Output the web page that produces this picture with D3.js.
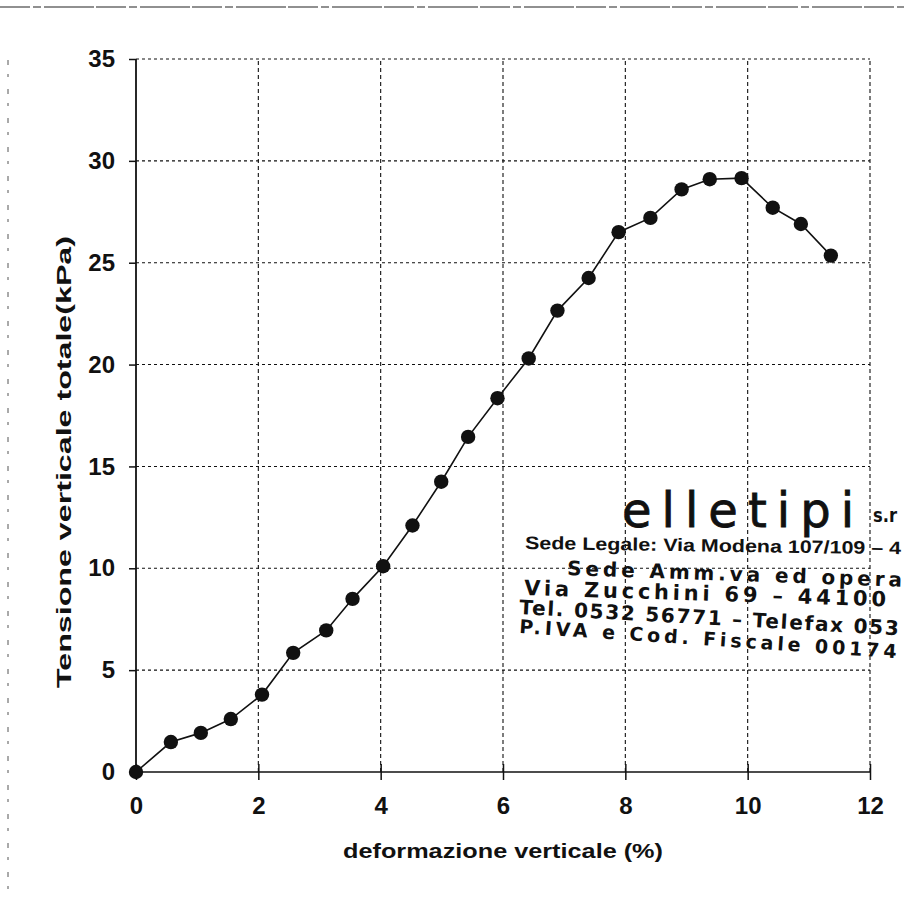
<!DOCTYPE html>
<html>
<head>
<meta charset="utf-8">
<script src="https://cdn.jsdelivr.net/npm/d3@7"></script>
<style>
  html, body { margin: 0; padding: 0; background: #fff; }
  svg { display: block; }
</style>
</head>
<body>
<script>
// ---- data ----
const deformazione = [0, 0.57, 1.06, 1.55, 2.06, 2.57, 3.11, 3.54, 4.04, 4.52, 4.99, 5.43, 5.91, 6.42, 6.89, 7.40, 7.89, 8.41, 8.92, 9.38, 9.90, 10.41, 10.87, 11.36];
const tensione     = [0, 1.47, 1.92, 2.6, 3.8, 5.85, 6.95, 8.5, 10.1, 12.1, 14.25, 16.45, 18.35, 20.3, 22.65, 24.25, 26.5, 27.2, 28.6, 29.1, 29.15, 27.7, 26.9, 25.35];
const xTicks = [0, 2, 4, 6, 8, 10, 12];
const yTicks = [0, 5, 10, 15, 20, 25, 30, 35];
const xTitle = "deformazione verticale (%)";
const yTitle = "Tensione verticale totale(kPa)";
// stamp text as visible in the scan (cut by the page edge)
const stampName = "elletipi";
const stampSuffix = "s.r";
const stampLines = [
  "Sede Legale: Via Modena 107/109 – 4",
  "Sede Amm.va ed opera",
  "Via Zucchini 69 – 44100",
  "Tel. 0532 56771 – Telefax 053",
  "P.IVA e Cod. Fiscale 00174"
];

const W = 904, H = 900;
const svg = d3.select("body").append("svg").attr("width", W).attr("height", H);

const x = d3.scaleLinear().domain([0, 12]).range([136, 870]);
const y = d3.scaleLinear().domain([0, 35]).range([772, 59]);

const ink = "#111";
const font = "'Liberation Sans', Arial, sans-serif";

// scan border artifacts
svg.append("line").attr("x1", 0).attr("x2", W).attr("y1", 7).attr("y2", 7)
  .attr("stroke", "#222").attr("stroke-width", 1.2).attr("stroke-dasharray", "30,3,8,3,50,2");
svg.append("line").attr("x1", 8).attr("x2", 8).attr("y1", 60).attr("y2", H)
  .attr("stroke", "#555").attr("stroke-width", 1).attr("stroke-dasharray", "5,9,3,12");

// gridlines
const grid = svg.append("g");
grid.selectAll("line.h").data(yTicks.filter(d => d > 0)).join("line")
  .attr("x1", x(0)).attr("x2", x(12))
  .attr("y1", d => y(d)).attr("y2", d => y(d))
  .attr("stroke", ink).attr("stroke-width", 1.1).attr("stroke-dasharray", "3,3");
grid.selectAll("line.v").data(xTicks.filter(d => d > 0)).join("line")
  .attr("x1", d => x(d)).attr("x2", d => x(d))
  .attr("y1", y(0)).attr("y2", y(35))
  .attr("stroke", ink).attr("stroke-width", 1.1).attr("stroke-dasharray", "4,3");

// axes
const xAxis = d3.axisBottom(x).tickValues(xTicks).tickSize(8).tickPadding(17).tickFormat(d3.format("d"));
const gx = svg.append("g").attr("transform", `translate(0,${y(0)})`).call(xAxis);
gx.select(".domain").attr("stroke", ink).attr("stroke-width", 1.6).attr("d", `M${x(0)},0H${x(12)}`);
gx.selectAll(".tick line").attr("stroke", ink).attr("stroke-width", 1.5).attr("y1", -8);
gx.selectAll(".tick text").attr("font-family", font).attr("font-weight", "bold")
  .attr("font-size", 24).attr("fill", ink);

const yAxis = d3.axisLeft(y).tickValues(yTicks).tickSize(7).tickPadding(14).tickFormat(d3.format("d"));
const gy = svg.append("g").attr("transform", `translate(${x(0)},0)`).call(yAxis);
gy.select(".domain").attr("stroke", ink).attr("stroke-width", 1.8).attr("d", `M0,${y(0)}V${y(35)}`);
gy.selectAll(".tick line").attr("stroke", ink).attr("stroke-width", 1.5);
gy.selectAll(".tick text").attr("font-family", font).attr("font-weight", "bold")
  .attr("font-size", 24).attr("fill", ink);

// titles
svg.append("text").attr("x", 503).attr("y", 858).attr("text-anchor", "middle")
  .attr("font-family", font).attr("font-weight", "bold").attr("font-size", 21).attr("fill", ink)
  .attr("textLength", 320).attr("lengthAdjust", "spacingAndGlyphs")
  .text(xTitle);
svg.append("text").attr("transform", "translate(71,462) rotate(-90)").attr("text-anchor", "middle")
  .attr("font-family", font).attr("font-weight", "bold").attr("font-size", 21).attr("fill", ink)
  .attr("textLength", 452).attr("lengthAdjust", "spacingAndGlyphs")
  .text(yTitle);

// series
const pts = deformazione.map((d, i) => [d, tensione[i]]);
svg.append("path").datum(pts)
  .attr("fill", "none").attr("stroke", ink).attr("stroke-width", 1.6)
  .attr("d", d3.line().x(d => x(d[0])).y(d => y(d[1])));
svg.selectAll("circle.pt").data(pts).join("circle")
  .attr("cx", d => x(d[0])).attr("cy", d => y(d[1])).attr("r", 7.2).attr("fill", ink);

// company stamp
const stamp = svg.append("g").attr("fill", ink);
const dv = "'DejaVu Sans', sans-serif";
stamp.append("text").attr("x", 622).attr("y", 527)
  .attr("font-family", dv).attr("font-size", 48)
  .attr("stroke", ink).attr("stroke-width", 0.8)
  .attr("textLength", 232).attr("lengthAdjust", "spacing").text(stampName);
stamp.append("text").attr("x", 873).attr("y", 522)
  .attr("font-family", dv).attr("font-weight", "bold").attr("font-size", 20)
  .attr("textLength", 24).attr("lengthAdjust", "spacingAndGlyphs").text(stampSuffix);
stamp.append("text").attr("transform", "translate(525,549) rotate(0.8)")
  .attr("font-family", "'Liberation Sans Narrow', 'Liberation Sans', sans-serif").attr("font-weight", "bold")
  .attr("font-size", 18).attr("textLength", 376).attr("lengthAdjust", "spacingAndGlyphs").text(stampLines[0]);
stamp.append("text").attr("transform", "translate(567,575) rotate(2)")
  .attr("font-family", dv).attr("font-size", 20).attr("font-weight", 600)
  .attr("textLength", 335).attr("lengthAdjust", "spacing").text(stampLines[1]);
stamp.append("text").attr("transform", "translate(524,595) rotate(1.8)")
  .attr("font-family", dv).attr("font-size", 21).attr("font-weight", 600)
  .attr("textLength", 362).attr("lengthAdjust", "spacing").text(stampLines[2]);
stamp.append("text").attr("transform", "translate(519,614) rotate(3.2)")
  .attr("font-family", dv).attr("font-size", 20).attr("font-weight", 600)
  .attr("textLength", 380).attr("lengthAdjust", "spacing").text(stampLines[3]);
stamp.append("text").attr("transform", "translate(519,633) rotate(3.8)")
  .attr("font-family", dv).attr("font-weight", "bold").attr("font-size", 19)
  .attr("textLength", 378).attr("lengthAdjust", "spacing").text(stampLines[4]);
</script>
</body>
</html>
